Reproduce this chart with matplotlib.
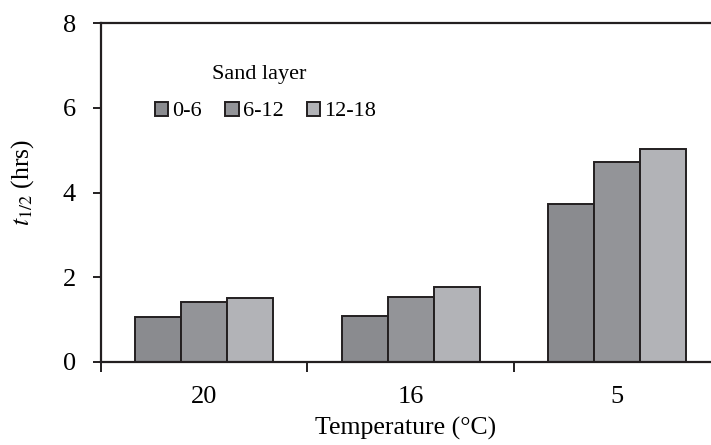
import numpy as np
import matplotlib
matplotlib.use('Agg')
import matplotlib.pyplot as plt
from matplotlib.ticker import FixedLocator, NullFormatter

temps = ['20', '16', '5']
layers = ['0-6', '6-12', '12-18']
t_half_0_6 = [1.06, 1.09, 3.74]
t_half_6_12 = [1.42, 1.53, 4.72]
t_half_12_18 = [1.51, 1.77, 5.02]

plt.rcParams['font.family'] = 'Liberation Serif'
plt.rcParams['mathtext.fontset'] = 'stix'

fig = plt.figure(figsize=(7.11, 4.45), dpi=100)
ax = fig.add_axes([101 / 711, 83 / 445, 1 - 101 / 711, 339 / 445])

x = np.arange(len(temps))
w = 0.223
colors = ['#8a8b8f', '#939498', '#b2b3b7']
series = [t_half_0_6, t_half_6_12, t_half_12_18]
for i, (vals, c, lab) in enumerate(zip(series, colors, layers)):
    ax.bar(x + (i - 1) * w, vals, w, color=c, edgecolor='#231f20',
           linewidth=1.4, label=lab)

ax.set_xlim(-0.5, 2.455)
ax.set_ylim(0, 8)
ax.set_yticks([0, 2, 4, 6, 8])
ax.set_xticks(x)
ax.set_xticklabels(temps)
ax.xaxis.set_minor_locator(FixedLocator([-0.5, 0.5, 1.5]))
ax.xaxis.set_minor_formatter(NullFormatter())
ax.tick_params(axis='x', which='major', length=0, pad=17, labelsize=19)
ax.tick_params(axis='x', which='minor', length=7, width=1.4, color='#231f20')
ax.tick_params(axis='y', length=6, width=1.4, color='#231f20', labelsize=19, pad=12)

for s in ['left', 'bottom', 'top']:
    ax.spines[s].set_linewidth(1.6)
    ax.spines[s].set_color('#231f20')
ax.spines['right'].set_visible(False)

ax.set_xlabel('Temperature (°C)', fontsize=18.5, labelpad=7)
ax.set_ylabel(r'$t_{1/2}$ (hrs)', fontsize=18.5)
ax.yaxis.set_label_coords(-0.107, 0.53)

ax.text(0.182, 0.835, 'Sand layer', transform=ax.transAxes, fontsize=16,
        ha='left', va='baseline')
ax.legend(loc='center left', bbox_to_anchor=(0.0885, 0.739), ncol=3, frameon=False,
          fontsize=16, handlelength=0.6, handleheight=0.6, handletextpad=0.18,
          columnspacing=1.05, borderaxespad=0, borderpad=0)

fig.savefig('out.png', dpi=100)
